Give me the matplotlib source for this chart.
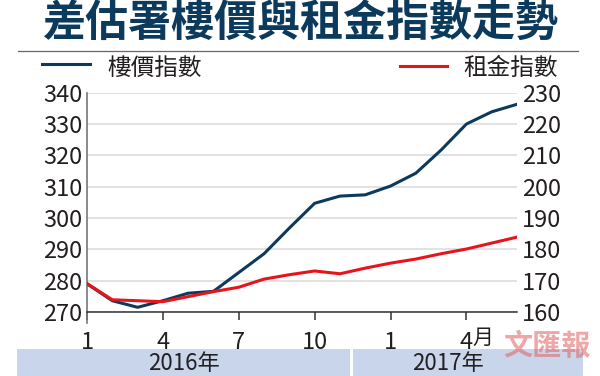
import matplotlib.pyplot as plt
from matplotlib.patches import Rectangle

# Datos (ene 2016 - jun 2017)
months = list(range(18))
price_index = [279.0, 273.6, 271.5, 273.6, 276.0, 276.6, 282.6, 288.6, 296.8,
               304.7, 307.0, 307.4, 310.2, 314.3, 321.7, 330.0, 333.9, 336.3]
rent_index = [169.1, 163.9, 163.6, 163.3, 164.9, 166.5, 167.9, 170.5, 171.9,
              173.1, 172.2, 174.0, 175.6, 176.9, 178.6, 180.1, 182.0, 183.9]
tick_pos = [0, 3, 6, 9, 12, 15]
tick_labels = ['1', '4', '7', '10', '1', '4']
years = ['2016年', '2017年']

NAVY = '#0c3a5c'
RED = '#e8141c'
num_font = ['Liberation Sans Narrow', 'Noto Sans CJK TC', 'DejaVu Sans']
cjk_font = ['Noto Sans CJK TC', 'DejaVu Sans']

W, H = 600, 376
fig = plt.figure(figsize=(6, 3.76), dpi=100)

def fx(px):
    return px / W

def fy(py):
    return 1 - py / H

# Título
fig.text(0.5, fy(24), '差估署樓價與租金指數走勢', ha='center', va='center',
         fontsize=31, fontweight='heavy', color=NAVY, family=cjk_font)
fig.add_artist(plt.Line2D([fx(18), fx(578)], [fy(51), fy(51)], color='#666666', lw=0.9))

# Leyenda
fig.add_artist(plt.Line2D([fx(42), fx(90)], [fy(64), fy(64)], color=NAVY, lw=2.2))
fig.text(fx(107), fy(68), '樓價指數', ha='left', va='center', fontsize=17,
         color='#231f20', family=cjk_font)
fig.add_artist(plt.Line2D([fx(400), fx(447)], [fy(66), fy(66)], color=RED, lw=2.2))
fig.text(fx(463), fy(68), '租金指數', ha='left', va='center', fontsize=17,
         color='#231f20', family=cjk_font)

# Ejes
ax = fig.add_axes([fx(87), fy(312), fx(517) - fx(87), fy(92.7) - fy(312)])
ax2 = ax.twinx()

ax.plot(months, price_index, color=NAVY, lw=2.2, zorder=3)
ax2.plot(months, rent_index, color=RED, lw=2.2, zorder=3)

ax.set_xlim(0, 17)
ax.set_ylim(270, 340)
ax2.set_ylim(160, 230)
ax.set_yticks(range(270, 341, 10))
ax2.set_yticks(range(160, 231, 10))
ax.grid(axis='y', color='#dddddd', lw=1.2)
ax.set_axisbelow(True)

for a in (ax, ax2):
    for s in ('top', 'right'):
        a.spines[s].set_visible(False)
ax2.spines['left'].set_visible(False)
ax2.spines['bottom'].set_visible(False)
ax.spines['left'].set_color('#777777')
ax.spines['left'].set_linewidth(1.2)
ax.spines['left'].set_bounds(266.5, 340)
ax.spines['bottom'].set_color('#333333')
ax.spines['bottom'].set_linewidth(1.1)

ax.set_xticks(tick_pos)
ax.set_xticklabels(tick_labels)
ax.tick_params(axis='x', direction='out', length=5.5, width=1.1, color='#333333',
               pad=8, labelsize=17, labelcolor='#231f20')
ax.tick_params(axis='y', length=0, pad=3.5, labelsize=17, labelcolor='#231f20')
ax2.tick_params(axis='y', length=0, pad=3.5, labelsize=17, labelcolor='#231f20')
for lab in ax.get_xticklabels() + ax.get_yticklabels() + ax2.get_yticklabels():
    lab.set_family(num_font)

ax.annotate('月', xy=(15, 0), xycoords=('data', 'axes fraction'), xytext=(4.5, -19),
            textcoords='offset points', ha='left', va='center', fontsize=15,
            color='#231f20', family=cjk_font, annotation_clip=False)

# Barra de años
bars = [(17, 350), (353, 583)]
label_x = [184, 448]
for (x0, x1), yr, lx in zip(bars, years, label_x):
    fig.patches.append(Rectangle((fx(x0), 0), fx(x1) - fx(x0), fy(349),
                                 transform=fig.transFigure, facecolor='#c9d5ea',
                                 edgecolor='none'))
    fig.text(fx(lx), fy(363), yr, ha='center', va='center', fontsize=16,
             color='#231f20', family=num_font)

# Marca de agua
fig.text(fx(547), fy(346), '文匯報', ha='center', va='center', fontsize=21,
         fontweight='bold', color='#e06060', alpha=0.55, family=cjk_font)

fig.savefig('out.png', dpi=100)
